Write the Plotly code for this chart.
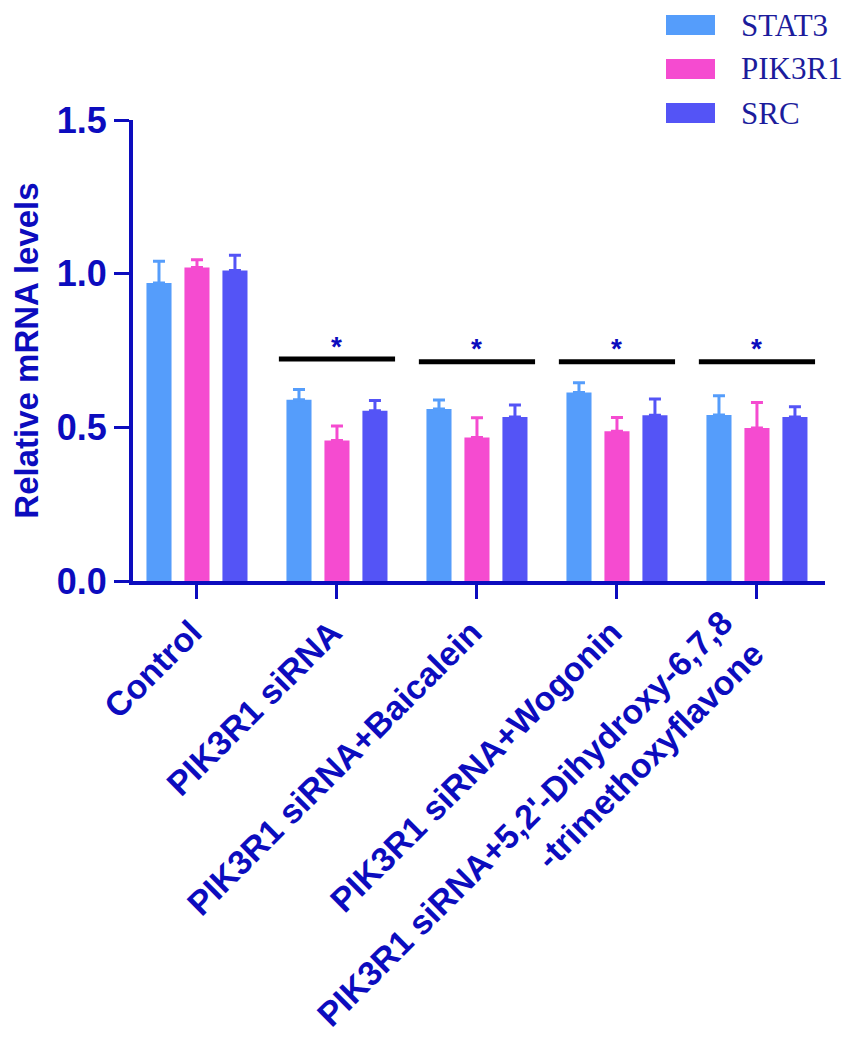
import plotly.graph_objects as go

categories = ["Control", "PIK3R1 siRNA", "PIK3R1 siRNA+Baicalein", "PIK3R1 siRNA+Wogonin",
              "PIK3R1 siRNA+5,2'-Dihydroxy-6,7,8<br>-trimethoxyflavone"]
series_names = ["STAT3", "PIK3R1", "SRC"]
stat3 = [0.97, 0.59, 0.56, 0.613, 0.54]
pik3r1 = [1.02, 0.457, 0.467, 0.487, 0.498]
src = [1.01, 0.554, 0.534, 0.539, 0.534]
stat3_err = [0.07, 0.033, 0.029, 0.032, 0.063]
pik3r1_err = [0.025, 0.047, 0.064, 0.045, 0.083]
src_err = [0.05, 0.033, 0.039, 0.053, 0.033]
sig_groups = [1, 2, 3, 4]
sig_y = [0.722, 0.713, 0.713, 0.713]
sig_star_y = [0.762, 0.758, 0.758, 0.758]
y_ticks = [0.0, 0.5, 1.0, 1.5]

colors = ["#559DFB", "#F54BD0", "#5454F6"]
dark_blue = "#0C0CBE"
legend_text_color = "#1C1C9C"
values = [stat3, pik3r1, src]
errors = [stat3_err, pik3r1_err, src_err]
label_font = dict(family="Liberation Sans, Arial", size=34, color=dark_blue, weight="bold")

fig = go.Figure()
for name, vals, errs, col in zip(series_names, values, errors, colors):
    fig.add_trace(go.Bar(
        x=categories, y=vals, name=name, marker=dict(color=col, line=dict(width=0)),
        error_y=dict(type="data", array=errs, arrayminus=[0] * len(errs), symmetric=False,
                     color=col, thickness=3, width=6),
        showlegend=False,
    ))

# significance bars
for g, yy, sy in zip(sig_groups, sig_y, sig_star_y):
    fig.add_shape(type="line", xref="x", yref="y", x0=g - 0.415, x1=g + 0.415, y0=yy, y1=yy,
                  line=dict(color="black", width=5))
    fig.add_annotation(x=g, y=sy, xref="x", yref="y", text="*", showarrow=False,
                       font=dict(family="Liberation Sans, Arial", size=28, color=dark_blue, weight="bold"))

# plot area spans screen x 133..825, y 120..581
PX0, PW, PY0, PH = 133, 692, 581, 461

# two-line label of the last group, placed like the reference (right-aligned lines)
fig.add_annotation(xref="x", yref="paper", x=len(categories) - 1, y=(PY0 - 834) / PH,
                   xshift=-217, text=categories[-1], showarrow=False, textangle=-45,
                   align="right", xanchor="center", yanchor="middle", font=label_font)

# legend drawn manually (wide swatches)
for i, (name, col) in enumerate(zip(series_names, colors)):
    yc = 25 + 44 * i
    fig.add_shape(type="rect", xref="paper", yref="paper",
                  x0=(666 - PX0) / PW, x1=(715 - PX0) / PW,
                  y0=(PY0 - (yc + 10)) / PH, y1=(PY0 - (yc - 10)) / PH,
                  line=dict(width=0), fillcolor=col)
    fig.add_annotation(xref="paper", yref="paper", x=(740 - PX0) / PW, y=(PY0 - yc) / PH,
                       text=name, showarrow=False, xanchor="left", yanchor="middle", borderpad=0,
                       font=dict(family="Liberation Serif, Times New Roman", size=31, color=legend_text_color))

fig.update_layout(
    width=853, height=1048,
    margin=dict(l=125, r=36, t=112, b=475),
    plot_bgcolor="white", paper_bgcolor="white",
    barmode="group", bargap=0.186, bargroupgap=0.34,
    showlegend=False,
)
fig.update_xaxes(
    type="category", range=[-0.457, 4.486], automargin=False,
    tickvals=categories, ticktext=categories[:-1] + [""],
    showline=True, linecolor=dark_blue, linewidth=4,
    ticks="outside", ticklen=14, tickwidth=3, tickcolor=dark_blue,
    tickangle=-45, showgrid=False, zeroline=False, ticklabelshift=-5,
    tickfont=label_font,
)
fig.update_yaxes(
    range=[0, 1.5], tickvals=y_ticks, ticktext=[f"{v:.1f}" for v in y_ticks], automargin=False,
    showline=True, linecolor=dark_blue, linewidth=4,
    ticks="outside", ticklen=15, tickwidth=3, tickcolor=dark_blue,
    showgrid=False, zeroline=False,
    tickfont=dict(family="Liberation Sans, Arial", size=36, color=dark_blue, weight="bold"),
    title=dict(text="Relative mRNA levels", standoff=12,
               font=dict(family="Liberation Sans, Arial", size=33, color=dark_blue, weight="bold")),
)

fig.write_html("out.html")
